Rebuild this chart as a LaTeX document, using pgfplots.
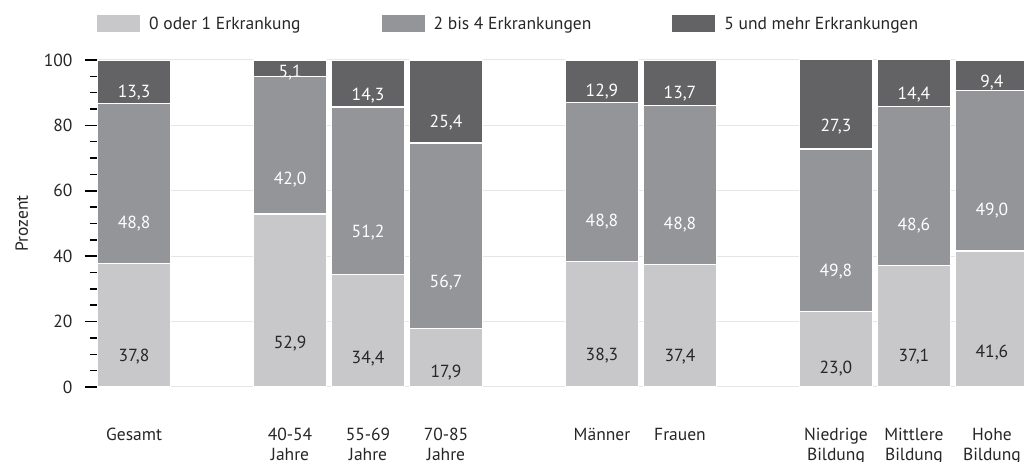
\documentclass[border=0pt]{standalone}
\usepackage{pgfplots}
\pgfplotsset{compat=1.18}
\usepackage{pgfplotstable}
\usepackage{fontspec}
\setmainfont{PT Sans}
\definecolor{lightbar}{HTML}{C8C8CA}
\definecolor{midbar}{HTML}{949598}
\definecolor{darkbar}{HTML}{636365}
\definecolor{gridgray}{HTML}{E6E6E6}
\definecolor{txt}{HTML}{262626}

% x: position of the category, a/b/c: share in percent
\pgfplotstableread{
x  a    b    c
0  37.8 48.8 13.3
2  52.9 42.0 5.1
3  34.4 51.2 14.3
4  17.9 56.7 25.4
6  38.3 48.8 12.9
7  37.4 48.8 13.7
9  23.0 49.8 27.3
10 37.1 48.6 14.4
11 41.6 49.0 9.4
}\datatable

% label in the middle of each segment
% (the shift is applied twice, so a quarter of 3.27pt per percent)
\pgfplotsset{
  midlabel/.style={
    nodes near coords={\pgfmathprintnumber[use comma,fixed,fixed zerofill,precision=1,assume math mode=true]{\pgfplotspointmeta}},
    point meta=explicit,
    every node near coord/.append style={
      anchor=center, text=#1,
      font=\fontsize{17.5}{20}\selectfont,
      /utils/exec={\pgfkeys{/pgf/fpu=true,/pgf/fpu/output format=fixed}%
        \pgfmathsetmacro\halfseg{\pgfplotspointmeta*0.8175}%
        \pgfkeys{/pgf/fpu=false}},
      yshift=-\halfseg pt,
    },
  },
}

\begin{document}
\begin{tikzpicture}
\path[use as bounding box] (-97pt,-75pt) rectangle (927pt,387pt);
\begin{axis}[
  at={(0pt,0pt)}, anchor=south west,
  scale only axis, width=932pt, height=327pt,
  clip=false,
  ybar stacked, bar width=0.94,
  xmin=-0.475, xmax=11.475,
  ymin=0, ymax=100,
  axis line style={draw=none},
  ytick={0,20,...,100},
  minor y tick num=3,
  ytick pos=left, xtick pos=bottom,
  tick align=outside,
  major tick length=12pt, minor tick length=7pt,
  y tick style={black, line width=1.5pt},
  xtick style={draw=none},
  ymajorgrids, grid style={gridgray, line width=1pt},
  /pgf/number format/assume math mode=true,
  xtick={0,2,3,4,6,7,9,10,11},
  xticklabels={Gesamt,{40-54\\Jahre},{55-69\\Jahre},{70-85\\Jahre},M\"anner,Frauen,{Niedrige\\Bildung},{Mittlere\\Bildung},{Hohe\\Bildung}},
  xticklabel style={align=center, anchor=north, text=txt, font=\fontsize{17.5}{20}\selectfont, yshift=-26pt},
  yticklabel style={text=txt, font=\fontsize{17.5}{20}\selectfont, xshift=-9pt},
  ylabel={Prozent}, ylabel shift=9pt,
  ylabel style={text=txt, font=\fontsize{17.5}{20}\selectfont},
  legend columns=3,
  legend image code/.code={\path[#1, draw=none] (0pt,-8.5pt) rectangle (43pt,8.5pt);},
  legend style={
    at={(axis description cs:0,1)}, anchor=west, yshift=36pt,
    draw=none, fill=none, inner sep=0pt,
    font=\fontsize{17.5}{20}\selectfont, text=txt,
    /tikz/every odd column/.append style={column sep=7pt},
    /tikz/every even column/.append style={column sep=79pt},
  },
]
\addplot[fill=lightbar, draw=white, line width=1.2pt, midlabel=txt]
  table[x=x, y=a, meta=a]{\datatable};
\addlegendentry{0 oder 1 Erkrankung}
\addplot[fill=midbar, draw=white, line width=1.2pt, midlabel=white]
  table[x=x, y=b, meta=b]{\datatable};
\addlegendentry{2 bis 4 Erkrankungen}
\addplot[fill=darkbar, draw=white, line width=1.2pt, midlabel=white]
  table[x=x, y=c, meta=c]{\datatable};
\addlegendentry{5 und mehr Erkrankungen}
\end{axis}
\end{tikzpicture}
\end{document}
